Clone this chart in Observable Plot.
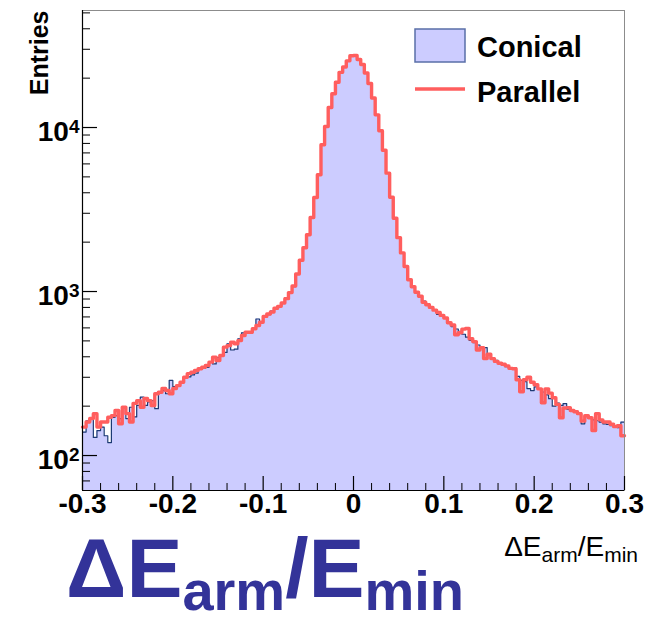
<!DOCTYPE html>
<html><head><meta charset="utf-8">
<script src="https://cdn.jsdelivr.net/npm/d3@7"></script>
<script src="https://cdn.jsdelivr.net/npm/@observablehq/plot@0.6"></script>
<style>
body{margin:0;background:#fff;}
#wrap{position:relative;width:652px;height:622px;overflow:hidden;font-family:"Liberation Sans",Arial,sans-serif;}
#chart{position:absolute;left:0;top:0;}
#caption{position:absolute;left:66px;top:526px;font-size:84px;line-height:84px;font-weight:bold;color:#333399;white-space:nowrap;}
#caption .sub{font-size:56px;line-height:56px;position:relative;top:13px;}
</style></head><body>
<div id="wrap"><div id="chart"></div><div id="caption">ΔE<span class="sub">arm</span>/E<span class="sub">min</span></div></div>
<script>
// ---- data ----
const xMin = -0.3, xMax = 0.3, nBins = 150;
const conical = [
139,163,167,129,142,149,132,120,171,175,
168,197,168,197,172,202,227,202,212,216,
193,243,249,238,287,263,266,280,298,302,
310,318,335,340,345,372,362,395,405,425,
480,440,445,515,560,565,560,590,680,655,
700,722,760,780,820,845,915,990,1070,1270,
1540,1840,2200,2810,3720,5130,7830,10100,13200,16000,
18850,21600,23300,25400,27300,27400,25900,24100,21450,18500,
15100,11900,9500,7230,5250,3740,2780,2110,1705,1410,
1175,1066,983,926,873,840,806,776,725,714,
685,642,611,591,571,549,527,504,488,472,
450,455,412,393,380,367,357,348,339,344,
304,287,282,256,249,262,254,244,234,222,
200,209,202,207,192,187,185,182,156,173,
169,165,163,160,156,155,152,151,148,160
];
const parallel = [
149,160,168,180,149,160,160,171,175,188,
156,197,180,160,208,216,197,223,216,202,
238,243,256,249,238,256,267,280,300,316,
322,330,338,345,354,371,398,380,407,458,
468,491,480,502,539,565,565,593,620,650,
705,730,750,790,812,852,905,985,1080,1280,
1550,1850,2220,2830,3740,5150,7850,10150,13250,16050,
18900,21700,23400,25500,27400,27500,26000,24200,21500,18550,
15150,11950,9550,7260,5270,3760,2800,2130,1720,1420,
1180,1070,990,935,860,830,800,770,745,715,
690,645,625,545,560,590,595,515,495,440,
455,390,415,390,375,365,360,352,340,338,
290,245,290,300,280,270,255,210,255,240,
225,205,170,195,196,188,185,180,162,175,
170,142,180,165,160,160,155,150,152,132
];
const seriesNames = ["Conical", "Parallel"];
const yTickValues = [100, 1000, 10000];
const yTickExps = ["2", "3", "4"];
const xTickValues = [-0.3, -0.2, -0.1, 0, 0.1, 0.2, 0.3];
const xTickLabels = ["-0.3", "-0.2", "-0.1", "0", "0.1", "0.2", "0.3"];
const yDomain = [61.2, 51700];

// ---- derived tables ----
const binW = (xMax - xMin) / nBins;
function steps(vals) {
  const pts = vals.map((v, i) => ({x: xMin + i * binW, v}));
  pts.push({x: xMax, v: vals[vals.length - 1]});
  return pts;
}
const conPts = steps(conical), parPts = steps(parallel);
const minorY = [];
for (let e = 1; e <= 4; e++) for (let k = 2; k <= 9; k++) {
  const v = k * Math.pow(10, e);
  if (v > yDomain[0] && v < yDomain[1]) minorY.push(v);
}
const minorX = [];
for (let i = 0; i <= 30; i++) if (i % 5) minorX.push(xMin + i * 0.02);

const W = 652, H = 566, mL = 82, mR = 28, mT = 10, mB = 76;
const plotW = W - mL - mR, plotH = H - mT - mB;
const font = "Liberation Sans, Arial, Helvetica, sans-serif";

const svg = Plot.plot({
  width: W, height: H, marginLeft: mL, marginRight: mR, marginTop: mT, marginBottom: mB,
  style: {fontFamily: font, background: "white", color: "black"},
  x: {domain: [xMin, xMax]},
  y: {type: "log", domain: yDomain},
  marks: [
    Plot.areaY(conPts, {x: "x", y1: () => yDomain[0], y2: "v", curve: "step-after", fill: "#ccccff"}),
    Plot.line(conPts, {x: "x", y: "v", curve: "step-after", stroke: "#1c3a74", strokeWidth: 1.2}),
    Plot.line(parPts, {x: "x", y: "v", curve: "step-after", stroke: "#ff5e5e", strokeWidth: 3.4}),
    Plot.frame({stroke: "#8c8c8c"}),
    Plot.ruleX([xMin], {stroke: "black", strokeWidth: 1.2}),
    Plot.ruleY([yDomain[0]], {stroke: "black", strokeWidth: 1.2}),
    Plot.tickY(yTickValues, {y: d => d, stroke: "black", strokeWidth: 1.2, insetRight: plotW - 15}),
    Plot.tickY(minorY, {y: d => d, stroke: "black", insetRight: plotW - 8}),
    Plot.tickX(xTickValues, {x: d => d, stroke: "black", strokeWidth: 1.2, insetTop: plotH - 14}),
    Plot.tickX(minorX, {x: d => d, stroke: "black", insetTop: plotH - 7}),
    Plot.axisX({ticks: xTickValues, tickFormat: d => xTickLabels[xTickValues.indexOf(d)], tickSize: 0, tickPadding: 3,
      fontSize: 28, fontWeight: "bold", label: null}),
    Plot.axisY({ticks: yTickValues, tickFormat: d => "10^" + yTickExps[yTickValues.indexOf(d)], tickSize: 0, tickPadding: 3,
      fontSize: 28, fontWeight: "bold", label: null, dy: 5}),
    Plot.text(["Entries"], {frameAnchor: "top-left", rotate: -90, textAnchor: "end", lineAnchor: "middle",
      dx: -43, fontSize: 25, fontWeight: "bold", fill: "black"})
  ]
});

// superscripts on y tick labels
svg.querySelectorAll('[aria-label="y-axis tick label"] text').forEach(t => {
  const parts = t.textContent.split("^");
  t.textContent = parts[0];
  const ts = document.createElementNS("http://www.w3.org/2000/svg", "tspan");
  ts.setAttribute("dy", "-0.45em");
  ts.setAttribute("font-size", "19");
  ts.textContent = parts[1];
  t.appendChild(ts);
});

const s = d3.select(svg);
// legend
const lg = s.append("g").attr("font-family", font).attr("font-weight", "bold").attr("font-size", 29)
  .attr("text-anchor", "start");
lg.append("rect").attr("x", 415).attr("y", 29).attr("width", 50).attr("height", 33)
  .attr("fill", "#ccccff").attr("stroke", "#5a6fa8").attr("stroke-width", 1.5);
lg.append("line").attr("x1", 415).attr("x2", 465).attr("y1", 89).attr("y2", 89)
  .attr("stroke", "#ff5e5e").attr("stroke-width", 3.4);
lg.append("text").attr("x", 477).attr("y", 57).attr("text-anchor", "start").text(seriesNames[0]);
lg.append("text").attr("x", 477).attr("y", 102).attr("text-anchor", "start").text(seriesNames[1]);

// x-axis title with subscripts
const lab = s.append("text").attr("x", 638).attr("y", 556).attr("text-anchor", "end")
  .attr("font-family", font).attr("font-size", 28).attr("fill", "black");
lab.append("tspan").text("ΔE");
lab.append("tspan").attr("font-size", 21).attr("dy", 6).text("arm");
lab.append("tspan").attr("dy", -6).text("/E");
lab.append("tspan").attr("font-size", 21).attr("dy", 6).text("min");

document.getElementById("chart").appendChild(svg);
</script>
</body></html>
